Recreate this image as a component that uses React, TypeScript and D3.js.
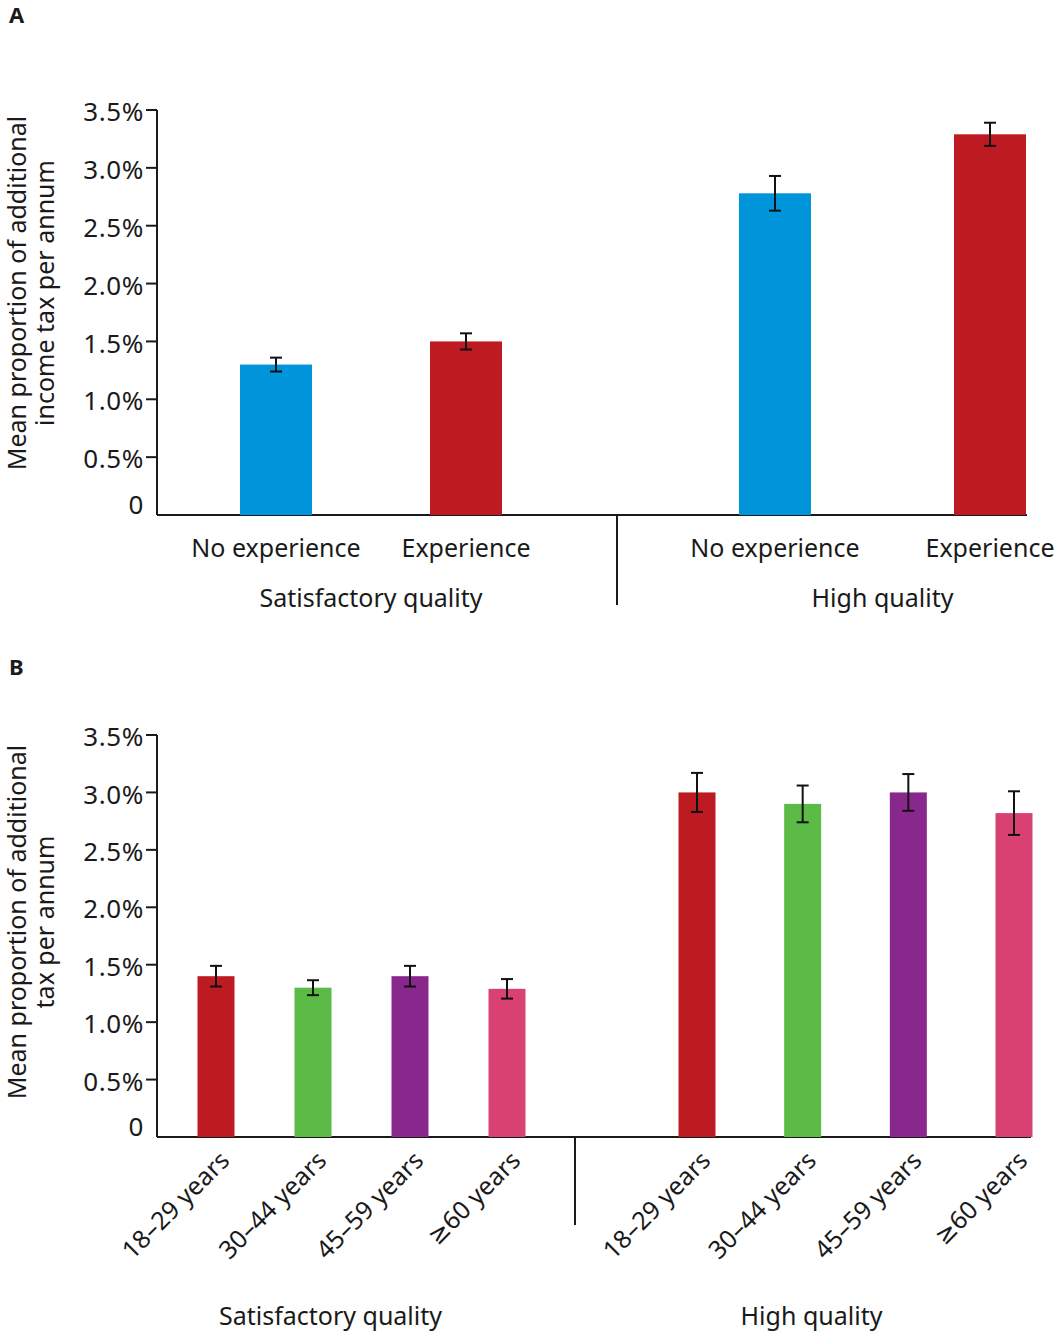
import * as d3 from "d3";
import { useEffect, useRef } from "react";

const WIDTH = 1064;
const HEIGHT = 1337;
const FONT = "'Noto Sans', 'DejaVu Sans', sans-serif";
const INK = "#1a1a1a";
const LABEL_SIZE = 25;

const Y_TICKS = [0, 0.5, 1, 1.5, 2, 2.5, 3, 3.5];
const GROUPS = ["Satisfactory quality", "High quality"];

// Panel A: by prior experience
const A_CATEGORIES = ["No experience", "Experience"];
const A_COLORS = ["#0095da", "#be1a21"];
const A_MEANS = [
  [1.3, 1.5],
  [2.78, 3.29],
];
const A_ERRORS = [
  [0.06, 0.07],
  [0.15, 0.1],
];

// Panel B: by age group
const B_CATEGORIES = ["18–29 years", "30–44 years", "45–59 years", "≥60 years"];
const B_COLORS = ["#be1a21", "#5bbb46", "#89288c", "#d94172"];
const B_MEANS = [
  [1.4, 1.3, 1.4, 1.29],
  [3.0, 2.9, 3.0, 2.82],
];
const B_ERRORS = [
  [0.09, 0.065, 0.09, 0.085],
  [0.17, 0.16, 0.16, 0.19],
];

type G = d3.Selection<SVGGElement, unknown, null, undefined>;

interface PanelSpec {
  letter: string;
  letterY: number;
  top: number;
  base: number;
  left: number;
  right: number;
  barWidth: number;
  groupRanges: [number, number][];
  dividerX: number;
  dividerBottom: number;
  rotated: boolean;
  catLabelY: number;
  groupLabelY: number;
  groupLabelShift: number[];
  titleLines: string[];
  titleY: number;
  categories: string[];
  colors: string[];
  means: number[][];
  errors: number[][];
}

const PANELS: PanelSpec[] = [
  {
    letter: "A",
    letterY: 23,
    top: 110,
    base: 515,
    left: 157,
    right: 1027,
    barWidth: 72,
    groupRanges: [
      [276, 466],
      [775, 990],
    ],
    dividerX: 617,
    dividerBottom: 605,
    rotated: false,
    catLabelY: 557,
    groupLabelY: 607,
    groupLabelShift: [0, 0],
    titleLines: ["Mean proportion of additional", "income tax per annum"],
    titleY: 293,
    categories: A_CATEGORIES,
    colors: A_COLORS,
    means: A_MEANS,
    errors: A_ERRORS,
  },
  {
    letter: "B",
    letterY: 675,
    top: 735,
    base: 1137,
    left: 157,
    right: 1031,
    barWidth: 37,
    groupRanges: [
      [216, 507],
      [697, 1014],
    ],
    dividerX: 575,
    dividerBottom: 1225,
    rotated: true,
    catLabelY: 1162,
    groupLabelY: 1325,
    groupLabelShift: [-31, -44],
    titleLines: ["Mean proportion of additional", "tax per annum"],
    titleY: 922,
    categories: B_CATEGORIES,
    colors: B_COLORS,
    means: B_MEANS,
    errors: B_ERRORS,
  },
];

const tickText = (d: number) => (d === 0 ? "0" : `${d3.format(".1f")(d)}%`);

function drawPanel(g: G, p: PanelSpec): void {
  const y = d3.scaleLinear().domain([0, 3.5]).range([p.base, p.top]);

  g.append("text")
    .attr("x", 9)
    .attr("y", p.letterY)
    .attr("font-size", 22)
    .attr("font-weight", 700)
    .text(p.letter);

  // y axis title
  p.titleLines.forEach((line, i) => {
    g.append("text")
      .attr("transform", `translate(${26 + i * 28},${p.titleY}) rotate(-90)`)
      .attr("text-anchor", "middle")
      .attr("font-size", LABEL_SIZE)
      .text(line);
  });

  // y axis
  const axis = g.append("g");
  axis
    .append("line")
    .attr("x1", p.left)
    .attr("x2", p.left)
    .attr("y1", y(3.5))
    .attr("y2", y(0))
    .attr("stroke", INK)
    .attr("stroke-width", 2);
  axis
    .selectAll("line.tick")
    .data(Y_TICKS.filter((t) => t > 0))
    .join("line")
    .attr("class", "tick")
    .attr("x1", p.left - 11)
    .attr("x2", p.left)
    .attr("y1", (d) => y(d))
    .attr("y2", (d) => y(d))
    .attr("stroke", INK)
    .attr("stroke-width", 2);
  axis
    .selectAll("text")
    .data(Y_TICKS)
    .join("text")
    .attr("x", p.left - 13)
    .attr("y", (d) => (d === 0 ? y(d) - 10 : y(d) + 2))
    .attr("dy", "0.35em")
    .attr("text-anchor", "end")
    .attr("font-size", 26)
    .attr("letter-spacing", 0.6)
    .text(tickText);

  // baseline and group divider
  g.append("line")
    .attr("x1", p.left)
    .attr("x2", p.right)
    .attr("y1", y(0))
    .attr("y2", y(0))
    .attr("stroke", INK)
    .attr("stroke-width", 2);
  g.append("line")
    .attr("x1", p.dividerX)
    .attr("x2", p.dividerX)
    .attr("y1", y(0))
    .attr("y2", p.dividerBottom)
    .attr("stroke", INK)
    .attr("stroke-width", 2);

  GROUPS.forEach((groupName, gi) => {
    const x = d3.scalePoint<string>().domain(p.categories).range(p.groupRanges[gi]);
    const rows = p.categories.map((c, i) => ({
      cat: c,
      color: p.colors[i],
      mean: p.means[gi][i],
      err: p.errors[gi][i],
    }));
    const grp = g.append("g");

    grp
      .selectAll("rect")
      .data(rows)
      .join("rect")
      .attr("x", (d) => (x(d.cat) ?? 0) - p.barWidth / 2)
      .attr("width", p.barWidth)
      .attr("y", (d) => y(d.mean))
      .attr("height", (d) => y(0) - y(d.mean))
      .attr("fill", (d) => d.color);

    // error bars
    const eb = grp
      .selectAll("g.err")
      .data(rows)
      .join("g")
      .attr("class", "err")
      .attr("stroke", "#111")
      .attr("stroke-width", 2);
    eb.append("line")
      .attr("x1", (d) => x(d.cat) ?? 0)
      .attr("x2", (d) => x(d.cat) ?? 0)
      .attr("y1", (d) => y(d.mean + d.err))
      .attr("y2", (d) => y(d.mean - d.err));
    [1, -1].forEach((s) => {
      eb.append("line")
        .attr("x1", (d) => (x(d.cat) ?? 0) - 6)
        .attr("x2", (d) => (x(d.cat) ?? 0) + 6)
        .attr("y1", (d) => y(d.mean + s * d.err))
        .attr("y2", (d) => y(d.mean + s * d.err));
    });

    // category labels
    const labels = grp
      .selectAll("text.cat")
      .data(rows)
      .join("text")
      .attr("class", "cat")
      .attr("font-size", LABEL_SIZE)
      .text((d) => d.cat);
    if (p.rotated) {
      labels
        .attr("text-anchor", "end")
        .attr("transform", (d) => `translate(${(x(d.cat) ?? 0) + 15},${p.catLabelY}) rotate(-45)`);
    } else {
      labels
        .attr("text-anchor", "middle")
        .attr("x", (d) => x(d.cat) ?? 0)
        .attr("y", p.catLabelY);
    }

    const [r0, r1] = p.groupRanges[gi];
    grp
      .append("text")
      .attr("x", (r0 + r1) / 2 + p.groupLabelShift[gi])
      .attr("y", p.groupLabelY)
      .attr("text-anchor", "middle")
      .attr("font-size", LABEL_SIZE)
      .text(groupName);
  });
}

export default function App() {
  const ref = useRef<SVGSVGElement>(null);

  useEffect(() => {
    const svg = d3.select(ref.current);
    svg.selectAll("*").remove();
    for (const p of PANELS) {
      drawPanel(svg.append("g") as unknown as G, p);
    }
  }, []);

  return (
    <div style={{ position: "absolute", left: 0, top: 0, background: "#fff" }}>
      <svg
        ref={ref}
        width={WIDTH}
        height={HEIGHT}
        viewBox={`0 0 ${WIDTH} ${HEIGHT}`}
        style={{ display: "block", fontFamily: FONT, fill: INK }}
      />
    </div>
  );
}
